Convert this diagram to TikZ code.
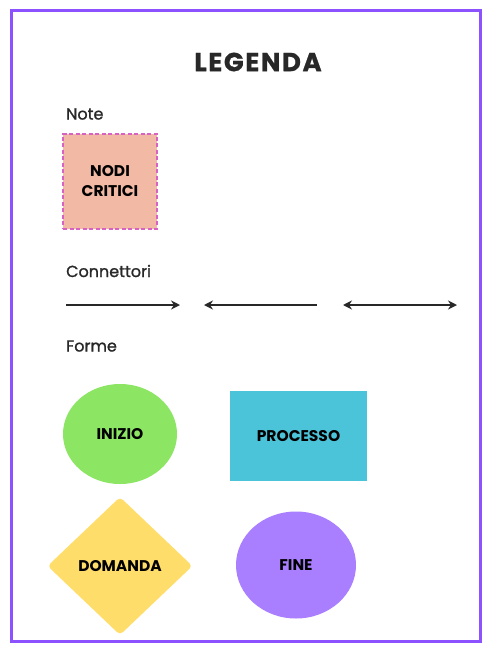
\documentclass[tikz,border=0pt]{standalone}
\usepackage{fontspec}
\setmainfont{Poppins}
\usetikzlibrary{shapes.geometric, arrows.meta, positioning}

\definecolor{framepurple}{RGB}{140,82,255}
\definecolor{notefill}{RGB}{242,185,165}
\definecolor{notedash}{RGB}{214,98,196}
\definecolor{startgreen}{RGB}{140,229,99}
\definecolor{processcyan}{RGB}{75,195,217}
\definecolor{askyellow}{RGB}{255,221,107}
\definecolor{endpurple}{RGB}{169,127,255}
\definecolor{inkgray}{RGB}{40,40,40}

\begin{document}
\begin{tikzpicture}[x=1pt, y=-1pt, >={Stealth[length=9pt,width=9pt]},
    heading/.style={anchor=west, inner sep=0pt, font=\fontsize{16}{18}\selectfont\addfontfeature{FakeBold=1.2}, text=inkgray},
    shapetext/.style={font=\bfseries\fontsize{15.5}{20}\selectfont, text=black, inner sep=0pt},
    legarrow/.style={line width=2.6pt, draw=inkgray}]
    % Canvas and purple frame
    \useasboundingbox (0,0) rectangle (482,645);
    \fill[white] (0,0) rectangle (482,645);
    \draw[line width=3pt, framepurple] (11,10) rectangle (480,641);

    % Title
    \node[font=\bfseries\fontsize{26}{30}\selectfont\addfontfeature{LetterSpace=6,FakeBold=0.8}, text=inkgray] (title) at (258,62) {LEGENDA};

    % Notes
    \node[heading] (notehead) at (66,114) {Note};
    \node[shapetext, align=center, fill=notefill, draw=notedash, dash pattern=on 4pt off 2.5pt, line width=2pt,
          minimum width=94pt, minimum height=95pt] (critici) at (110,181) {NODI\\CRITICI};

    % Connectors
    \node[heading] (connhead) at (66,271) {Connettori};
    \coordinate (c1a) at (66,305);  \coordinate (c1b) at (180,305);
    \coordinate (c2a) at (204,305); \coordinate (c2b) at (317,305);
    \coordinate (c3a) at (343,305); \coordinate (c3b) at (457,305);
    \draw[legarrow, ->] (c1a) -- (c1b);
    \draw[legarrow, <-] (c2a) -- (c2b);
    \draw[legarrow, <->] (c3a) -- (c3b);

    % Shapes
    \node[heading] (formhead) at (66,346) {Forme};
    \node[shapetext, ellipse, fill=startgreen, minimum width=114pt, minimum height=100pt] (inizio) at (120,434) {INIZIO};
    \node[shapetext, rectangle, fill=processcyan, minimum width=137pt, minimum height=90pt] (processo) at (298.5,436) {PROCESSO};
    \node[shapetext, diamond, rounded corners=4pt, fill=askyellow, minimum width=145pt, minimum height=138pt] (domanda) at (120,566) {DOMANDA};
    \node[shapetext, ellipse, fill=endpurple, minimum width=120pt, minimum height=107pt] (fine) at (296,565) {FINE};
\end{tikzpicture}
\end{document}
